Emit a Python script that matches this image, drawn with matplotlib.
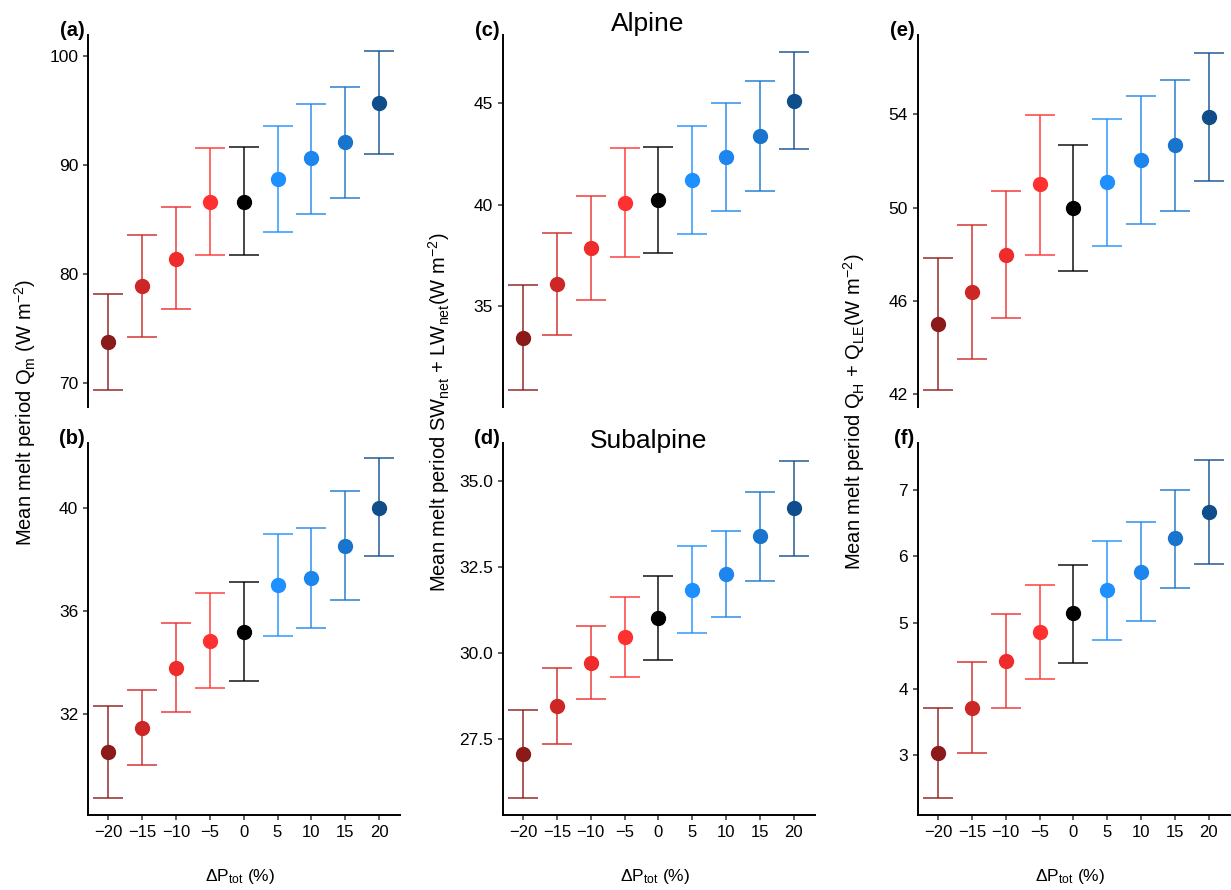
import matplotlib
matplotlib.use("Agg")
import matplotlib.pyplot as plt

plt.rcParams['font.family'] = ['Liberation Sans', 'DejaVu Sans']
plt.rcParams['mathtext.fontset'] = 'custom'
plt.rcParams['mathtext.rm'] = 'Liberation Sans'
plt.rcParams['mathtext.it'] = 'Liberation Sans:italic'

# precipitation change scenarios (%)
dp = [-20, -15, -10, -5, 0, 5, 10, 15, 20]
colors = ['#8B1A1A', '#CD2626', '#EE2C2C', '#FF3030', '#000000',
          '#1E90FF', '#1C86EE', '#1874CD', '#104E8B']

# (a) alpine Qm
qm_alp = [73.8, 78.9, 81.4, 86.6, 86.6, 88.7, 90.6, 92.1, 95.7]
qm_alp_lo = [69.4, 74.2, 76.8, 81.7, 81.7, 83.8, 85.5, 87.0, 91.0]
qm_alp_hi = [78.2, 83.6, 86.1, 91.5, 91.6, 93.6, 95.6, 97.1, 100.4]

# (b) subalpine Qm
qm_sub = [30.55, 31.48, 33.79, 34.85, 35.19, 36.99, 37.28, 38.53, 40.0]
qm_sub_lo = [28.76, 30.03, 32.09, 33.02, 33.27, 35.01, 35.34, 36.42, 38.12]
qm_sub_hi = [32.33, 32.94, 35.53, 36.69, 37.11, 38.98, 39.22, 40.66, 41.91]

# (c) alpine SWnet + LWnet
rad_alp = [33.46, 36.08, 37.87, 40.1, 40.25, 41.21, 42.36, 43.38, 45.13]
rad_alp_lo = [30.9, 33.61, 35.31, 37.43, 37.64, 38.56, 39.7, 40.69, 42.75]
rad_alp_hi = [36.07, 38.59, 40.43, 42.79, 42.87, 43.89, 45.0, 46.08, 47.51]

# (d) subalpine SWnet + LWnet
rad_sub = [27.07, 28.47, 29.72, 30.46, 31.03, 31.83, 32.29, 33.39, 34.21]
rad_sub_lo = [25.8, 27.37, 28.67, 29.31, 29.81, 30.58, 31.04, 32.08, 32.82]
rad_sub_hi = [28.35, 29.57, 30.8, 31.62, 32.25, 33.1, 33.54, 34.68, 35.59]

# (e) alpine QH + QLE
turb_alp = [45.01, 46.38, 47.98, 50.99, 49.99, 51.08, 52.03, 52.67, 53.89]
turb_alp_lo = [42.17, 43.51, 45.26, 47.98, 47.3, 48.37, 49.31, 49.86, 51.13]
turb_alp_hi = [47.85, 49.26, 50.7, 53.99, 52.69, 53.81, 54.77, 55.46, 56.62]

# (f) subalpine QH + QLE
turb_sub = [3.04, 3.72, 4.42, 4.86, 5.14, 5.49, 5.77, 6.27, 6.67]
turb_sub_lo = [2.36, 3.03, 3.71, 4.15, 4.39, 4.74, 5.03, 5.53, 5.89]
turb_sub_hi = [3.72, 4.41, 5.13, 5.57, 5.87, 6.23, 6.52, 7.0, 7.45]

panels = [
    ('(a)', qm_alp, qm_alp_lo, qm_alp_hi, (67.8, 101.9), [70, 80, 90, 100], '%d'),
    ('(b)', qm_sub, qm_sub_lo, qm_sub_hi, (28.1, 42.5), [32, 36, 40], '%d'),
    ('(c)', rad_alp, rad_alp_lo, rad_alp_hi, (30.05, 48.36), [35, 40, 45], '%d'),
    ('(d)', rad_sub, rad_sub_lo, rad_sub_hi, (25.3, 36.1), [27.5, 30.0, 32.5, 35.0], '%.1f'),
    ('(e)', turb_alp, turb_alp_lo, turb_alp_hi, (41.45, 57.4), [42, 46, 50, 54], '%d'),
    ('(f)', turb_sub, turb_sub_lo, turb_sub_hi, (2.1, 7.71), [3, 4, 5, 6, 7], '%d'),
]

W, H = 1231, 890
fig = plt.figure(figsize=(W / 100, H / 100), dpi=100)

col_left = [88, 502.7, 917.7]
row_top = [35, 443]
ax_w, ax_h = 312, 372

for k, (lab, mean, lo, hi, ylim, yt, fmt) in enumerate(panels):
    col, row = k // 2, k % 2
    ax = fig.add_axes([col_left[col] / W, 1 - (row_top[row] + ax_h) / H, ax_w / W, ax_h / H])
    for x, m, l, h, c in zip(dp, mean, lo, hi, colors):
        ax.errorbar(x, m, yerr=[[m - l], [h - m]], fmt='none', ecolor=c,
                    elinewidth=1.2, capsize=10.5, capthick=1.2, alpha=0.85, zorder=2)
        ax.plot(x, m, 'o', color=c, markersize=10, zorder=3)
    ax.set_xlim(-23, 23.1)
    ax.set_ylim(*ylim)
    ax.set_yticks(yt)
    ax.set_yticklabels([fmt % v for v in yt])
    for s in ['top', 'right']:
        ax.spines[s].set_visible(False)
    ax.spines['left'].set_linewidth(1.4)
    ax.spines['bottom'].set_linewidth(1.4)
    ax.tick_params(axis='both', length=3.5, width=1.1, color='#333333')
    ax.tick_params(axis='y', labelsize=12.5)
    ax.tick_params(axis='x', labelsize=12)
    if row == 0:
        ax.spines['bottom'].set_visible(False)
        ax.set_xticks([])
    else:
        ax.set_xticks(dp)
        ax.set_xticklabels([('\u2212%d' % -v) if v < 0 else '%d' % v for v in dp])
    ax.text(-0.01, 1.013, lab, transform=ax.transAxes, ha='right', va='center',
            fontsize=14.5, fontweight='bold')
    if k == 2:
        ax.text(0.466, 1.011, 'Alpine', transform=ax.transAxes, ha='center',
                va='baseline', fontsize=19)
    if k == 3:
        ax.text(0.466, 0.987, 'Subalpine', transform=ax.transAxes, ha='center',
                va='baseline', fontsize=19)

ylabels = [
    (25, r'Mean melt period Q$_\mathrm{m}$ (W m$^{-2}$)'),
    (439, r'Mean melt period SW$_\mathrm{net}$ + LW$_\mathrm{net}$(W m$^{-2}$)'),
    (854, r'Mean melt period Q$_\mathrm{H}$ + Q$_\mathrm{LE}$(W m$^{-2}$)'),
]
for x, t in ylabels:
    fig.text(x / W, 1 - 412 / H, t, rotation=90, ha='center', va='center', fontsize=14.5)

for cx in [240, 655, 1070]:
    fig.text(cx / W, 1 - 876 / H, r'$\Delta$P$_\mathrm{tot}$ (%)', ha='center',
             va='center', fontsize=12.5)

fig.savefig('out.png', dpi=100)
